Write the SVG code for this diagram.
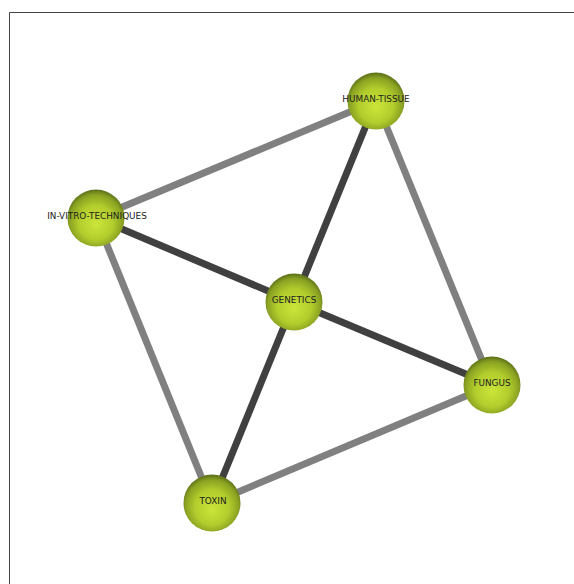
<svg xmlns="http://www.w3.org/2000/svg" width="574" height="584" viewBox="0 0 574 584">
<defs>
<radialGradient id="ball" cx="50%" cy="55%" r="55%" fx="50%" fy="62%">
<stop offset="0" stop-color="#cbe53a"/>
<stop offset="0.55" stop-color="#b2cd2c"/>
<stop offset="0.85" stop-color="#8aa222"/>
<stop offset="1" stop-color="#5a6e18"/>
</radialGradient>
<style>
.light{stroke:#808080;stroke-width:7;fill:none}
.dark{stroke:#404040;stroke-width:7;fill:none}
.node circle{fill:url(#ball)}
.node text{font-family:"DejaVu Sans",Verdana,sans-serif;font-size:8.9px;fill:#222;text-anchor:middle}
</style>
</defs>
<rect x="0" y="0" width="574" height="584" fill="#fff"/>
<path d="M9.5,584 V12.5 H574" stroke="#444" stroke-width="1" fill="none"/>
<g id="connectors">
<line class="light" x1="376" y1="101" x2="96" y2="218"/>
<line class="light" x1="376" y1="101" x2="492" y2="385"/>
<line class="light" x1="96" y1="218" x2="212" y2="503"/>
<line class="light" x1="212" y1="503" x2="492" y2="385"/>
<line class="dark" x1="376" y1="101" x2="294" y2="302"/>
<line class="dark" x1="96" y1="218" x2="294" y2="302"/>
<line class="dark" x1="294" y1="302" x2="492" y2="385"/>
<line class="dark" x1="294" y1="302" x2="212" y2="503"/>
</g>
<g id="node-human-tissue" class="node"><circle cx="376" cy="101" r="28.5"/><text x="376" y="101.5">HUMAN-TISSUE</text></g>
<g id="node-in-vitro-techniques" class="node"><circle cx="96" cy="218" r="28.5"/><text x="97" y="218.5">IN-VITRO-TECHNIQUES</text></g>
<g id="node-genetics" class="node"><circle cx="294" cy="302" r="28.5"/><text x="294" y="302.5">GENETICS</text></g>
<g id="node-fungus" class="node"><circle cx="492" cy="385" r="28.5"/><text x="492" y="386">FUNGUS</text></g>
<g id="node-toxin" class="node"><circle cx="212" cy="503" r="28.5"/><text x="213" y="504">TOXIN</text></g>
</svg>
